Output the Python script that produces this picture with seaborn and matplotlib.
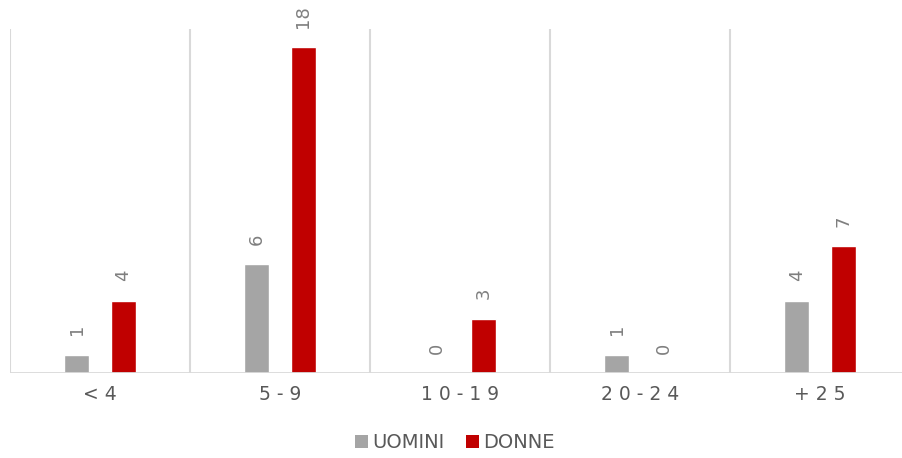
import matplotlib
matplotlib.use("Agg")
import matplotlib.pyplot as plt
from matplotlib.patches import Patch
import seaborn as sns
import pandas as pd

# Age bands (years) and head counts by sex
fasce = ["< 4", "5 - 9", "1 0 - 1 9", "2 0 - 2 4", "+ 2 5"]
uomini = [1, 6, 0, 1, 4]
donne = [4, 18, 3, 0, 7]
serie = ["UOMINI", "DONNE"]
colori = ["#A5A5A5", "#C00000"]

df = pd.DataFrame({
    "fascia": fasce * 2,
    "n": uomini + donne,
    "sesso": [serie[0]] * len(fasce) + [serie[1]] * len(fasce),
})

sns.set_theme(style="white")
plt.rcParams["font.family"] = ["DejaVu Sans"]

W, H = 903, 458
fig = plt.figure(figsize=(W / 100, H / 100), dpi=100)
ax = fig.add_axes([10 / W, (H - 373) / H, 900 / W, (373 - 29) / H])

sns.barplot(data=df, x="fascia", y="n", hue="sesso", order=fasce,
            hue_order=serie, palette=colori, width=0.52, gap=0.466,
            saturation=1, legend=False, ax=ax)

ax.set_xlim(-0.5, len(fasce) - 0.5)
ax.set_ylim(0, 344 / 18.1)

# value labels, rotated, above each bar
for cont, vals in zip(ax.containers, [uomini, donne]):
    ax.bar_label(cont, labels=[str(v) for v in vals], padding=14,
                 rotation=90, color="#7F7F7F", fontsize=13)

# light separators between categories and baseline
grid_c = "#D9D9D9"
for xb in [i - 0.5 for i in range(len(fasce) + 1)]:
    ax.axvline(xb, color=grid_c, lw=1.5, zorder=0)
ax.axhline(0, color=grid_c, lw=2, zorder=3)

for s in ax.spines.values():
    s.set_visible(False)
ax.set_yticks([])
ax.set_xlabel("")
ax.set_ylabel("")
ax.tick_params(axis="x", length=0, pad=9, labelsize=13.5, labelcolor="#595959")

handles = [Patch(facecolor=c, edgecolor="none", label=l) for c, l in zip(colori, serie)]
fig.legend(handles=handles, loc="center", bbox_to_anchor=(455 / W, (H - 443) / H),
           ncol=2, frameon=False, fontsize=14, handlelength=0.65,
           handleheight=0.65, handletextpad=0.25, columnspacing=1.1,
           labelcolor="#595959")

fig.savefig("out.png", dpi=100)
